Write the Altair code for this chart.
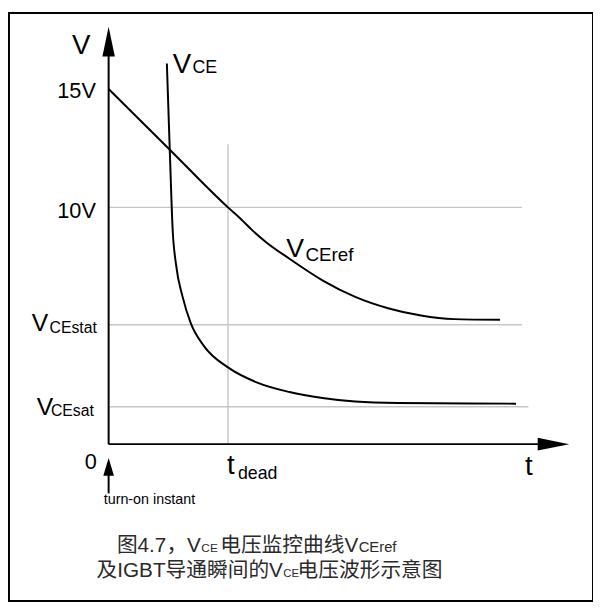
import altair as alt
import pandas as pd

# ---------------- values ----------------
# time in units of t_dead, voltage in volts
vceref_t = [0.0, 0.5, 1.0, 1.116, 1.198, 1.322, 1.515, 1.791, 2.066, 2.341, 2.617, 2.893, 3.279]
vceref_v = [15.0, 12.5, 10.0, 9.47, 9.06, 8.52, 7.83, 6.92, 6.22, 5.74, 5.43, 5.28, 5.25]

vce_t = [0.488, 0.512, 0.537, 0.564, 0.620, 0.688, 0.799, 1.0, 1.240, 1.515, 1.791, 2.066, 2.424, 3.413]
vce_v = [16.08, 12.46, 9.0, 7.61, 6.22, 5.11, 4.14, 3.24, 2.61, 2.20, 1.95, 1.80, 1.74, 1.71]

grid_h_v = [10.0, 5.04, 1.58]          # 10V, VCEstat, VCEsat levels
grid_h_t_end = [3.463, 3.463, 3.517]
t_dead = 1.0
t_dead_grid_top = 12.67

axis_t_end = 3.6
axis_v_end = 16.5
x_arrow_t = 3.727
y_arrow_v = 17.0
turnon_arrow_v = -0.958
turnon_line_v = [-1.2, -2.08]

# text labels and their anchors (t, V)
axis_label = ["V", -0.306, 16.46]
tick_labels = [["15V", -0.107, 14.625], ["10V", -0.107, 9.56], ["0", -0.099, -1.04]]
big_letters = [["V", -0.645, 4.79, 25], ["V", -0.603, 1.21, 25],
               ["V", 0.537, 15.67, 28], ["V", 1.488, 7.92, 27],
               ["t", 0.992, -1.25, 28], ["t", 3.488, -1.29, 28]]
sub_right = [["CEstat", -0.099, 4.71, 16], ["CEsat", -0.124, 1.17, 16]]
sub_left = [["CE", 0.702, 15.67, 18], ["CEref", 1.649, 7.72, 19], ["dead", 1.083, -1.46, 18]]
turnon_label = ["turn-on instant", -0.041, -2.54]
caption_right = [["图4.7，V", 0.773, -4.54], ["电压监控曲线V", 2.091, -4.54],
                 ["及IGBT导通瞬间的V", 1.460, -5.625], ["电压波形示意图", 2.797, -5.625]]
caption_sub = [["CE", 0.777, -4.54, 12], ["CEref", 2.095, -4.54, 15], ["CE", 1.463, -5.625, 11.5]]

X_DOMAIN = [-0.8347, 4.0579]
Y_DOMAIN = [-6.625, 18.2083]

FONT = "Liberation Sans, Arial, sans-serif"
CJK_FONT = "Liberation Sans, Noto Sans CJK SC, sans-serif"


def X(f):
    return alt.X(f, type="quantitative", axis=None,
                 scale=alt.Scale(domain=X_DOMAIN, nice=False, zero=False))


def Y(f):
    return alt.Y(f, type="quantitative", axis=None,
                 scale=alt.Scale(domain=Y_DOMAIN, nice=False, zero=False))


layers = []

# grid lines
gh = pd.DataFrame({"t0": [0.0] * 3, "t1": grid_h_t_end, "v": grid_h_v})
layers.append(alt.Chart(gh).mark_rule(color="#c6c6c6", strokeWidth=1.4).encode(
    x=X("t0"), x2="t1", y=Y("v")))
gv = pd.DataFrame({"t": [t_dead], "v0": [0.0], "v1": [t_dead_grid_top]})
layers.append(alt.Chart(gv).mark_rule(color="#c6c6c6", strokeWidth=1.4).encode(
    x=X("t"), y=Y("v0"), y2="v1"))

# axes
ax = pd.DataFrame({"t0": [0.0], "t1": [axis_t_end], "v": [0.0]})
layers.append(alt.Chart(ax).mark_rule(color="black", strokeWidth=2).encode(
    x=X("t0"), x2="t1", y=Y("v")))
ay = pd.DataFrame({"t": [0.0, 0.0], "v0": [0.0, turnon_line_v[0]], "v1": [axis_v_end, turnon_line_v[1]]})
layers.append(alt.Chart(ay).mark_rule(color="black", strokeWidth=2).encode(
    x=X("t"), y=Y("v0"), y2="v1"))


# arrowheads
def arrow(t, v, shape, size):
    df = pd.DataFrame({"t": [t], "v": [v]})
    return alt.Chart(df).mark_point(shape=shape, size=size, filled=True, color="black",
                                    opacity=1, strokeWidth=0).encode(x=X("t"), y=Y("v"))


layers.append(arrow(0.0, y_arrow_v, "M0,-1L0.42,1L-0.42,1Z", 900))
layers.append(arrow(x_arrow_t, 0.0, "M1,0L-1,-0.41L-1,0.41Z", 1024))
layers.append(arrow(0.0, turnon_arrow_v, "M0,-1L0.6,1L-0.6,1Z", 324))

# curves
ref = pd.DataFrame({"t": vceref_t, "v": vceref_v})
layers.append(alt.Chart(ref).mark_line(color="black", strokeWidth=2, interpolate="monotone").encode(
    x=X("t"), y=Y("v")))
vce = pd.DataFrame({"t": vce_t, "v": vce_v})
layers.append(alt.Chart(vce).mark_line(color="black", strokeWidth=2, interpolate="monotone").encode(
    x=X("t"), y=Y("v")))


def text(txt, t, v, size, align="left", font=FONT, color="black"):
    df = pd.DataFrame({"t": [t], "v": [v], "label": [txt]})
    return alt.Chart(df).mark_text(align=align, baseline="alphabetic", fontSize=size,
                                   font=font, color=color).encode(
        x=X("t"), y=Y("v"), text="label:N")


layers.append(text(axis_label[0], axis_label[1], axis_label[2], 28))
for lab, t, v in tick_labels:
    layers.append(text(lab, t, v, 22, align="right"))
for lab, t, v, s in big_letters:
    layers.append(text(lab, t, v, s))
for lab, t, v, s in sub_right:
    layers.append(text(lab, t, v, s, align="right"))
for lab, t, v, s in sub_left:
    layers.append(text(lab, t, v, s))
layers.append(text(turnon_label[0], turnon_label[1], turnon_label[2], 14.5))

CAP_COLOR = "#2a2a2a"
for lab, t, v in caption_right:
    layers.append(text(lab, t, v, 21, align="right", font=CJK_FONT, color=CAP_COLOR))
for lab, t, v, s in caption_sub:
    layers.append(text(lab, t, v, s, font=FONT, color=CAP_COLOR))

chart = alt.layer(*layers).properties(
    width=592, height=596,
    padding={"left": 1, "top": 1, "right": 0, "bottom": 2},
    autosize="none",
).configure_view(stroke="black", strokeWidth=2)

chart.save("out.html", embed_options={"renderer": "svg", "actions": False})
